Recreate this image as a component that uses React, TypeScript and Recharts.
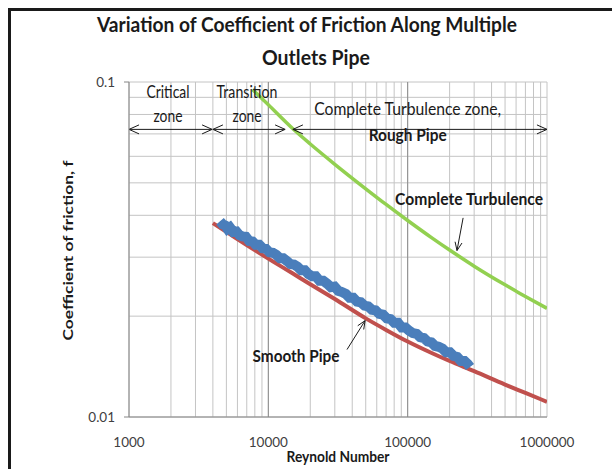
import React from "react";
import {
  LineChart,
  Line,
  XAxis,
  YAxis,
  CartesianGrid,
  ReferenceLine,
  ReferenceDot,
  Label,
} from "recharts";

const FONT = 'Lato, "Open Sans", sans-serif';

// axis ticks (log scales)
const xTicks = [
  1000, 2000, 3000, 4000, 5000, 6000, 7000, 8000, 9000,
  10000, 20000, 30000, 40000, 50000, 60000, 70000, 80000, 90000,
  100000, 200000, 300000, 400000, 500000, 600000, 700000, 800000, 900000,
  1000000,
];
const xDecades = [10000, 100000];
const xLabelled = [1000, 10000, 100000, 1000000];
const yTicks = [0.01, 0.02, 0.03, 0.04, 0.05, 0.06, 0.07, 0.08, 0.09, 0.1];
const yLabelled = [0.01, 0.1];

// measured data (blue band)
const measuredRe = [
  4500, 4700, 4900, 5100, 5300, 5600, 5900, 6200, 6500, 6900, 7300, 7700,
  8100, 8600, 9100, 9600, 10200, 10800, 11400, 12100, 12800, 13600, 14400,
  15300, 16200, 17200, 18300, 19400, 20600, 21900, 23300, 24800, 26400,
  28100, 29900, 31800, 33800, 36000, 38300, 40700, 43300, 46100, 49000,
  52100, 55400, 58900, 62600, 66600, 70800, 75300, 80100, 85200, 90600,
  96400, 102500, 109000, 116000, 123000, 131000, 139000, 148000, 157000,
  167000, 178000, 189000, 201000, 214000, 227000, 241000, 256000, 270000, 280000,
];
const measuredF = [
  0.0384, 0.0376, 0.0373, 0.0364, 0.0368, 0.0357, 0.0358, 0.0349, 0.0346, 0.0345, 0.0335, 0.0334,
  0.0327, 0.0327, 0.0319, 0.0318, 0.031, 0.0309, 0.0305, 0.0298, 0.0298, 0.0292, 0.0286,
  0.0285, 0.0281, 0.0274, 0.0274, 0.0267, 0.0263, 0.0263, 0.0255, 0.0255, 0.025,
  0.0244, 0.0245, 0.0238, 0.0236, 0.0233, 0.0227, 0.0227, 0.0221, 0.022, 0.0215,
  0.0214, 0.0209, 0.0208, 0.0203, 0.0202, 0.0197, 0.0196, 0.0191, 0.0191, 0.0185,
  0.0185, 0.0181, 0.0178, 0.0177, 0.0173, 0.0172, 0.0168, 0.0167, 0.0163,
  0.0162, 0.016, 0.0156, 0.0156, 0.0152, 0.0151, 0.0147, 0.0147, 0.0144, 0.0141,
];

// smooth pipe (red)
const smoothRe = [4000, 5000, 7000, 10000, 15000, 20000, 30000, 50000, 70000, 100000, 150000, 200000, 300000, 500000, 700000, 1000000];
const smoothF = [0.0379, 0.0357, 0.0326, 0.0297, 0.0268, 0.0249, 0.0225, 0.0197, 0.0182, 0.0168, 0.0155, 0.0147, 0.0137, 0.0125, 0.0118, 0.0111];

// complete turbulence (green)
const roughRe = [7700, 10000, 15000, 20000, 30000, 50000, 70000, 100000, 150000, 200000, 300000, 500000, 700000, 1000000];
const roughF = [0.095, 0.0855, 0.0725, 0.0653, 0.0568, 0.048, 0.0431, 0.0386, 0.0342, 0.0315, 0.0282, 0.0248, 0.0229, 0.0211];

const measured = measuredRe.map((re, i) => ({ re, f: measuredF[i] }));
const smooth = smoothRe.map((re, i) => ({ re, f: smoothF[i] }));
const rough = roughRe.map((re, i) => ({ re, f: roughF[i] }));

const INK = "#1a1a1a";

const head = (tx: number, ty: number, fx: number, fy: number, len: number, spread: number) => {
  const ang = Math.atan2(ty - fy, tx - fx);
  const a1 = ang + Math.PI - spread;
  const a2 = ang + Math.PI + spread;
  return (
    <polyline
      points={`${tx + len * Math.cos(a1)},${ty + len * Math.sin(a1)} ${tx},${ty} ${tx + len * Math.cos(a2)},${ty + len * Math.sin(a2)}`}
      fill="none"
      stroke={INK}
      strokeWidth={1}
    />
  );
};

const zoneArrow = (p: any) => (
  <g>
    <line x1={p.x1} y1={p.y1} x2={p.x2} y2={p.y2} stroke={INK} strokeWidth={1} />
    {head(p.x1, p.y1, p.x2, p.y2, 11, 0.42)}
    {head(p.x2, p.y2, p.x1, p.y1, 11, 0.42)}
  </g>
);

const pointer = (p: any) => (
  <g>
    <line x1={p.x1} y1={p.y1} x2={p.x2} y2={p.y2} stroke={INK} strokeWidth={1} />
    {head(p.x2, p.y2, p.x1, p.y1, 9, 0.4)}
  </g>
);

const note = (text: string, w: number, bold: boolean) => (p: any) => (
  <text
    x={p.cx}
    y={p.cy}
    dy="0.35em"
    textAnchor="middle"
    textLength={w}
    lengthAdjust="spacingAndGlyphs"
    fontFamily={FONT}
    fontSize={17}
    fontWeight={bold ? "bold" : "normal"}
    fill={INK}
  >
    {text}
  </text>
);

const XTick = ({ x, y, payload }: any) =>
  xLabelled.includes(payload.value) ? (
    <text x={x} y={y} dy="0.71em" textAnchor="middle" fontFamily={FONT} fontSize={13.5} fill="#404040">
      {payload.value}
    </text>
  ) : (
    <g />
  );

const YTick = ({ x, y, payload }: any) =>
  yLabelled.includes(payload.value) ? (
    <g>
      <line x1={x + 9} x2={x + 14} y1={y} y2={y} stroke="#868686" />
      <text x={x} y={y} dy="0.35em" textAnchor="end" fontFamily={FONT} fontSize={13.5} fill="#404040">
        {payload.value}
      </text>
    </g>
  ) : (
    <g />
  );

const App = () => {
  return (
    <div style={{ position: "fixed", left: 8, top: 8, width: 604, height: 461, overflow: "hidden", background: "#fff" }}>
      <div
        style={{
          position: "absolute",
          left: 0,
          top: 0,
          width: 640,
          height: 500,
          borderTop: "3px solid #1a1a1a",
          borderLeft: "3px solid #1a1a1a",
        }}
      />
      <svg width={604} height={70} style={{ position: "absolute", left: 0, top: 0 }}>
        <text x={299} y={17} dy="0.35em" textAnchor="middle" textLength={420} lengthAdjust="spacingAndGlyphs"
          fontFamily={FONT} fontWeight="bold" fontSize={21} fill={INK}>
          Variation of Coefficient of Friction Along Multiple
        </text>
        <text x={308} y={50} dy="0.35em" textAnchor="middle" textLength={108} lengthAdjust="spacingAndGlyphs"
          fontFamily={FONT} fontWeight="bold" fontSize={21} fill={INK}>
          Outlets Pipe
        </text>
      </svg>
      <LineChart width={604} height={461} margin={{ top: 74, right: 65, bottom: 0, left: 0 }}>
        <CartesianGrid stroke="#c4c4c4" />
        <XAxis
          dataKey="re"
          type="number"
          scale="log"
          domain={[1000, 1000000]}
          allowDataOverflow
          ticks={xTicks}
          interval={0}
          height={52}
          tickLine={false}
          tickSize={5}
          tickMargin={15}
          tick={<XTick />}
          stroke="#868686"
        >
          <Label
            content={({ viewBox }: any) => (
              <text
                x={viewBox.x + viewBox.width / 2}
                y={viewBox.y + 40}
                dy="0.35em"
                textAnchor="middle"
                textLength={103}
                lengthAdjust="spacingAndGlyphs"
                fontFamily={FONT}
                fontWeight="bold"
                fontSize={15}
                fill={INK}
              >
                Reynold Number
              </text>
            )}
          />
        </XAxis>
        <YAxis
          dataKey="f"
          type="number"
          scale="log"
          domain={[0.01, 0.1]}
          allowDataOverflow
          ticks={yTicks}
          interval={0}
          width={121}
          tickLine={false}
          tickSize={5}
          tickMargin={9}
          tick={<YTick />}
          stroke="#868686"
        >
          <Label
            content={({ viewBox }: any) => {
              const cx = 60;
              const cy = viewBox.y + viewBox.height / 2 + 1;
              return (
                <text
                  x={cx}
                  y={cy}
                  dy="0.35em"
                  textAnchor="middle"
                  textLength={180}
                  lengthAdjust="spacingAndGlyphs"
                  transform={`rotate(-90 ${cx} ${cy})`}
                  fontFamily={FONT}
                  fontWeight="bold"
                  fontSize={13}
                  fill={INK}
                >
                  Coefficient of friction, f
                </text>
              );
            }}
          />
        </YAxis>
        {xDecades.map((v) => (
          <ReferenceLine key={v} x={v} stroke="#8c8c8c" />
        ))}
        <Line data={smooth} dataKey="f" type="monotone" stroke="#C0504D" strokeWidth={4} dot={false} isAnimationActive={false} />
        <Line data={measured} dataKey="f" type="linear" stroke="#4A7EBB" strokeWidth={10} strokeLinejoin="miter" dot={false} isAnimationActive={false} />
        <Line data={rough} dataKey="f" type="monotone" stroke="#92D050" strokeWidth={3.5} dot={false} isAnimationActive={false} />

        <ReferenceLine segment={[{ x: 1000, y: 0.0722 }, { x: 3950, y: 0.0722 }]} shape={zoneArrow} />
        <ReferenceLine segment={[{ x: 4000, y: 0.0722 }, { x: 13200, y: 0.0722 }]} shape={zoneArrow} />
        <ReferenceLine segment={[{ x: 15000, y: 0.0722 }, { x: 1000000, y: 0.0722 }]} shape={zoneArrow} />
        <ReferenceLine segment={[{ x: 250000, y: 0.0393 }, { x: 226000, y: 0.0314 }]} shape={pointer} />
        <ReferenceLine segment={[{ x: 36700, y: 0.0159 }, { x: 49500, y: 0.0194 }]} shape={pointer} />

        <ReferenceDot x={1905} y={0.0934} r={0} shape={note("Critical", 43, false)} />
        <ReferenceDot x={1905} y={0.0792} r={0} shape={note("zone", 29, false)} />
        <ReferenceDot x={7030} y={0.0934} r={0} shape={note("Transition", 61, false)} />
        <ReferenceDot x={7030} y={0.0792} r={0} shape={note("zone", 29, false)} />
        <ReferenceDot x={100000} y={0.0831} r={0} shape={note("Complete Turbulence zone,", 187, false)} />
        <ReferenceDot x={100000} y={0.0695} r={0} shape={note("Rough Pipe", 78, true)} />
        <ReferenceDot x={276000} y={0.0448} r={0} shape={note("Complete Turbulence", 148, true)} />
        <ReferenceDot x={15800} y={0.0152} r={0} shape={note("Smooth Pipe", 87, true)} />
      </LineChart>
    </div>
  );
};

export default App;
